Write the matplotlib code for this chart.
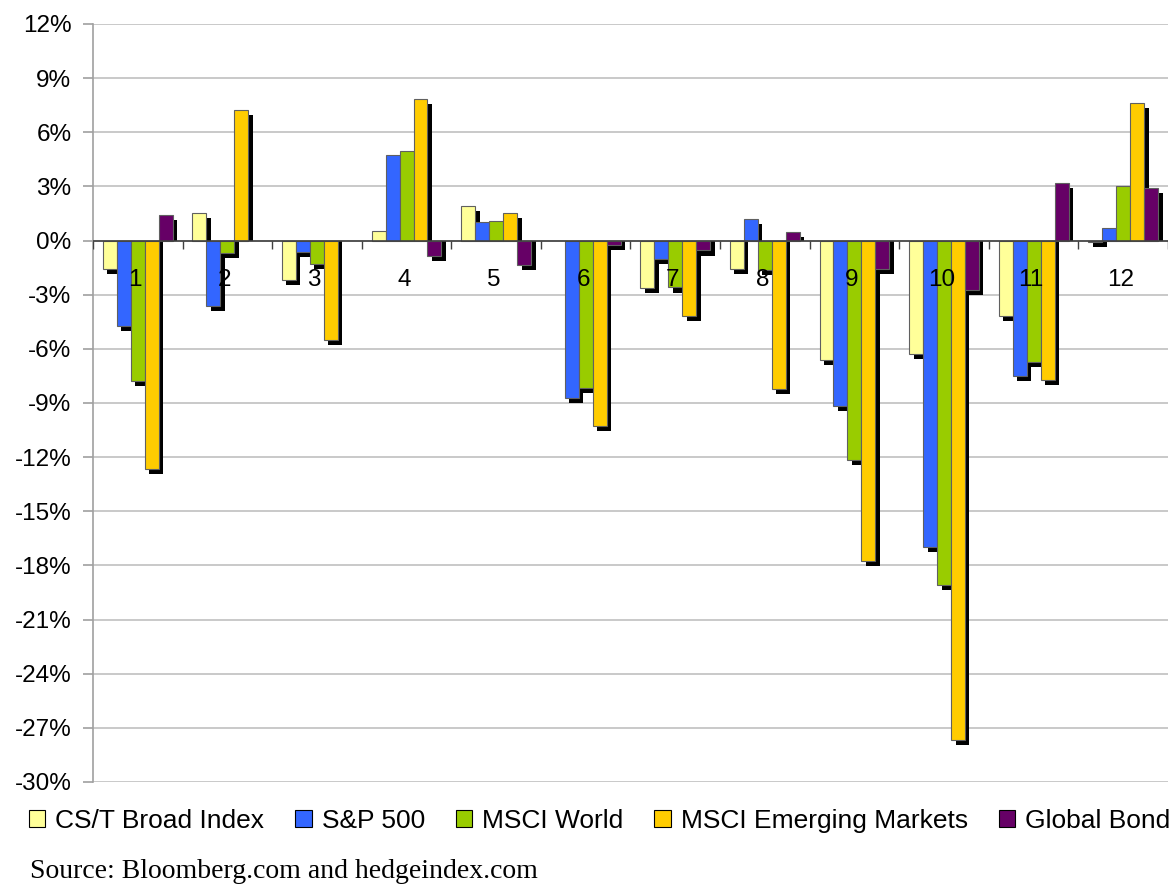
import numpy as np
import matplotlib.pyplot as plt
from matplotlib.patches import Patch

plt.rcParams['font.family'] = ['Liberation Sans', 'DejaVu Sans']

months = [str(m) for m in range(1, 13)]
series = ['CS/T Broad Index', 'S&P 500', 'MSCI World', 'MSCI Emerging Markets', 'Global Bond']
colors = ['#FFFF99', '#3366FF', '#99CC00', '#FFCC00', '#660066']

# monthly returns in % (nan = no bar shown)
cst = [-1.6, 1.55, -2.2, 0.55, 1.9, np.nan, -2.65, -1.55, -6.6, -6.3, -4.2, -0.1]
spx = [-4.75, -3.6, -0.65, 4.75, 1.0, -8.7, -1.0, 1.2, -9.15, -17.0, -7.5, 0.7]
world = [-7.8, -0.7, -1.3, 4.95, 1.1, -8.15, -2.6, -1.65, -12.15, -19.1, -6.75, 3.0]
em = [-12.65, 7.25, -5.5, 7.85, 1.55, -10.25, -4.2, -8.25, -17.75, -27.65, -7.7, 7.6]
bond = [1.4, np.nan, np.nan, -0.85, -1.35, -0.25, -0.55, 0.45, -1.55, -2.75, 3.2, 2.9]
data = [cst, spx, world, em, bond]

fig = plt.figure(figsize=(11.74, 8.84), dpi=100)
ax = fig.add_axes([0.0792, 0.1154, 0.9157, 0.8575])

x = np.arange(1, 13)
w = 0.156
dx, dy = 0.05, 0.28   # drop shadow offset (data units)

for j, (vals, c) in enumerate(zip(data, colors)):
    v = np.array(vals, dtype=float)
    pos = x + (j - 2) * w
    # shadow: shifted right and down, never below the zero line for gains
    top = np.where(v > 0, v - dy, 0)
    bot = np.where(v > 0, 0, v - dy)
    ax.bar(pos + dx, top - bot, bottom=bot, width=w, color='black', linewidth=0, zorder=2)
    ax.bar(pos, v, width=w, color=c, edgecolor='#606060', linewidth=0.8, zorder=3)

ax.set_xlim(0.5, 12.5)
ax.set_ylim(-30, 12)
ax.set_yticks(np.arange(-30, 13, 3))
ax.set_yticklabels(['%d%%' % v for v in np.arange(-30, 13, 3)], fontsize=17.5)
ax.yaxis.grid(True, color='#C0C0C0', linewidth=1.2, zorder=0)
ax.set_axisbelow(True)
ax.set_xticks([])
ax.tick_params(axis='y', length=7.5, color='#A0A0A0', width=1.2, pad=8)
for s in ['top', 'right', 'bottom']:
    ax.spines[s].set_visible(False)
ax.spines['left'].set_color('#A0A0A0')
ax.spines['left'].set_linewidth(1.2)

# zero axis with category ticks
ax.axhline(0, color='#404040', linewidth=1.2, zorder=4)
ax.vlines(np.arange(0.5, 13, 1), -0.45, 0, color='#404040', linewidth=1.0, zorder=4)
for xi, m in zip(x, months):
    ax.text(xi - 0.03, -2.2, m, ha='center', va='center', fontsize=17.5, zorder=5)

handles = [Patch(facecolor=c, edgecolor='black', linewidth=0.8) for c in colors]
fig.legend(handles, series, loc='center left', bbox_to_anchor=(29 / 1174, 1 - 821 / 884),
           ncol=5, frameon=False, fontsize=19, handlelength=0.62, handleheight=0.62,
           handletextpad=0.38, columnspacing=1.17, borderpad=0, borderaxespad=0)

fig.text(30 / 1174, 1 - 878 / 884, 'Source: Bloomberg.com and hedgeindex.com',
         family='Liberation Serif', fontsize=20, ha='left', va='baseline')

fig.savefig('out.png', dpi=100)
